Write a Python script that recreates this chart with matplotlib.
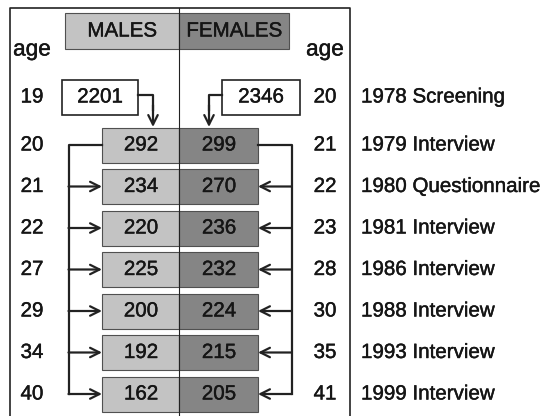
import matplotlib
matplotlib.use("Agg")
import matplotlib.pyplot as plt
from matplotlib.patches import Rectangle
import matplotlib.patheffects as pe

plt.rcParams['font.family'] = ['Liberation Sans', 'DejaVu Sans']

# ---- data ----
screen_age_m = 19
screen_age_f = 20
screen_n_m = 2201
screen_n_f = 2346
ages_m = [20, 21, 22, 27, 29, 34, 40]
ages_f = [21, 22, 23, 28, 30, 35, 41]
counts_m = [292, 234, 220, 225, 200, 192, 162]
counts_f = [299, 270, 236, 232, 224, 215, 205]
events = ["1978 Screening", "1979 Interview", "1980 Questionnaire",
          "1981 Interview", "1986 Interview", "1988 Interview",
          "1993 Interview", "1999 Interview"]
headers = ["MALES", "FEMALES"]

# ---- style ----
C_M = "#c3c3c3"
C_F = "#858585"
EDGE = "#505050"
TXT = "#151515"
FS = 14.8
PE = [pe.withStroke(linewidth=0.3, foreground=TXT)]

fig = plt.figure(figsize=(5.41, 4.16), dpi=100)
ax = fig.add_axes([0, 0, 1, 1])
ax.set_xlim(0, 541)
ax.set_ylim(416, 0)
ax.axis("off")


def txt(x, y, s, ha="center", fs=FS, z=4):
    ax.text(x, y, s, ha=ha, va="center", fontsize=fs, color=TXT, zorder=z,
            path_effects=PE)


y0 = 97
y1 = 145
step = 41.5
ys = [y1 + i * step for i in range(len(counts_m))]

# frame
ax.plot([9.5, 9.5, 350, 350], [420, 8, 8, 420], color="#222222", lw=1.2, zorder=1)

# header boxes
ax.add_patch(Rectangle((65, 13), 114, 36, facecolor=C_M, edgecolor=EDGE, lw=0.8, zorder=2))
ax.add_patch(Rectangle((179, 13), 110, 36, facecolor=C_F, edgecolor=EDGE, lw=0.8, zorder=2))
txt(122, 31, headers[0])
txt(234, 31, headers[1])
txt(32, 49, "age", fs=FS + 1.5)
txt(325, 49, "age", fs=FS + 1.5)

# bars
ax.barh(ys, [77] * len(ys), left=102, height=35, color=C_M, edgecolor=EDGE, lw=0.8, zorder=2)
ax.barh(ys, [79] * len(ys), left=179, height=35, color=C_F, edgecolor=EDGE, lw=0.8, zorder=2)
for y, cm, cf in zip(ys, counts_m, counts_f):
    txt(141, y, str(cm))
    txt(219, y, str(cf))

# center line
ax.plot([179, 179], [8, 420], color="#222222", lw=0.8, zorder=3)

# screening boxes
ax.add_patch(Rectangle((62, 80), 76, 35, facecolor="white", edgecolor="#222222", lw=1.2, zorder=2))
ax.add_patch(Rectangle((222, 80), 78, 35, facecolor="white", edgecolor="#222222", lw=1.2, zorder=2))
txt(100, y0, str(screen_n_m))
txt(261, y0, str(screen_n_f))
txt(32, y0, str(screen_age_m))
txt(325, y0, str(screen_age_f))

LW = 1.6
AP = dict(arrowstyle="->", color="#222222", lw=LW, shrinkA=0, shrinkB=0,
          mutation_scale=17)
# screening arrows
ax.plot([138, 153, 153], [95, 95, 110], color="#222222", lw=LW)
ax.annotate("", xy=(153, 127), xytext=(153, 105), arrowprops=AP)
ax.plot([222, 209, 209], [95, 95, 110], color="#222222", lw=LW)
ax.annotate("", xy=(209, 127), xytext=(209, 105), arrowprops=AP)

# brackets
ax.plot([102, 68.5, 68.5], [ys[0], ys[0], ys[-1]], color="#222222", lw=LW)
ax.plot([258, 291.5, 291.5], [ys[0], ys[0], ys[-1]], color="#222222", lw=LW)
for y in ys[1:]:
    ax.annotate("", xy=(102, y), xytext=(68.5, y), arrowprops=AP)
    ax.annotate("", xy=(258, y), xytext=(291.5, y), arrowprops=AP)

# ages and events
for y, am, af in zip(ys, ages_m, ages_f):
    txt(32, y, str(am))
    txt(325, y, str(af))
for y, ev in zip([y0] + ys, events):
    txt(361, y, ev, ha="left")

fig.savefig("out.png", dpi=100)
